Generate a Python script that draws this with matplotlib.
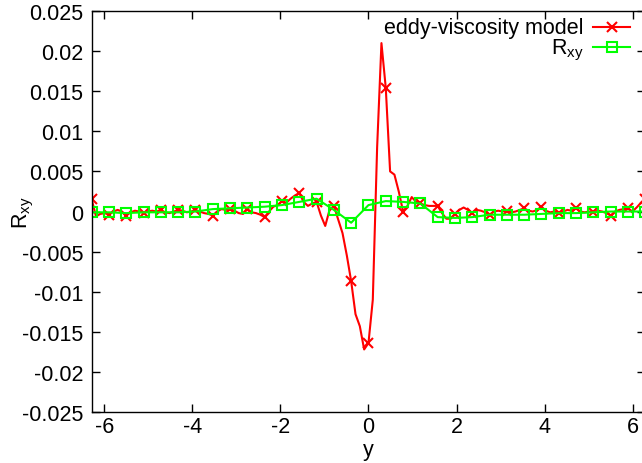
import numpy as np
import matplotlib
matplotlib.use('Agg')
import matplotlib.pyplot as plt
from matplotlib.lines import Line2D

plt.rcParams['font.family'] = ['Liberation Sans', 'DejaVu Sans']
plt.rcParams['mathtext.default'] = 'regular'
plt.rcParams['axes.unicode_minus'] = False

# eddy-viscosity model, sampled every pi/32 on [-2pi, 2pi] (values x 1e-4)
eddy_vals = [15, -6, -3, -2, -4, 0, 2, 0, -5,
             -1, 1, 0, -2, 0, 1, 0, 2,
             -1, -2, 0, 2, 1, -1, 0, 2,
             0, -2, -3, -5, 0, 3, 2, 3,
             1, -2, -3, 3, -1, -2, -4, -7,
             0, 6, 8, 13, 11, 16, 20, 23,
             12, 7, 10, 12, -5, -18, 2, 7,
             -10, -27, -55, -87, -128, -143, -172, -164,
             -110, 80, 210, 154, 50, 46, 25, 0,
             7, 18, 12, 10, 8, 7, 7, 7,
             -2, -9, -9, -3, 2, 5, 2, -2,
             2, 1, -1, -4, 0, 1, 0, 1,
             -1, 0, 2, 4, 1, 0, 2, 6,
             1, -1, 0, -2, 0, 2, 1, 4,
             0, -1, 0, -1, 1, 0, -2, -5,
             0, 2, 3, 4, 0, 5, 11, 16]

# R_xy, sampled every pi/8 on [-2pi, 2pi] (values x 1e-4)
rxy_vals = [-1, -1, -2, -1, -1, -1, 0, 3, 4, 5, 6, 8, 12, 16, 2, -14, 8,
            13, 12, 10, -7, -8, -7, -4, -4, -4, -3, -2, -2, -1, 0, 0, 0]

xticks = [-6, -4, -2, 0, 2, 4, 6]
yticks = [-0.025, -0.02, -0.015, -0.01, -0.005, 0, 0.005, 0.01, 0.015, 0.02, 0.025]
ytick_labels = ['-0.025', '-0.02', '-0.015', '-0.01', '-0.005', '0',
                '0.005', '0.01', '0.015', '0.02', '0.025']

eddy_y = np.array(eddy_vals) * 1e-4
eddy_x = np.linspace(-2 * np.pi, 2 * np.pi, len(eddy_y))
rxy_y = np.array(rxy_vals) * 1e-4
rxy_x = np.linspace(-2 * np.pi, 2 * np.pi, len(rxy_y))

fs = 15.5
fig = plt.figure(figsize=(6.42, 4.64), dpi=100)
ax = fig.add_axes([0.1428, 0.1099, 0.8623, 0.8642])

ax.plot(eddy_x, eddy_y, color='#ff0000', lw=1.5, marker='x', markevery=4,
        ms=7, mew=1.5)
ax.plot(rxy_x, rxy_y, color='#00ff00', lw=1.5, marker='s', ms=6.5,
        mfc='none', mew=1.5)

ax.set_xlim(-2 * np.pi, 2 * np.pi)
ax.set_ylim(-0.025, 0.025)
ax.set_xticks(xticks)
ax.set_yticks(yticks)
ax.set_yticklabels(ytick_labels)
ax.tick_params(direction='in', length=6, width=1, top=True, right=True,
               labelsize=fs)
ax.tick_params(axis='x', pad=3)
ax.tick_params(axis='y', pad=6)
for s in ax.spines.values():
    s.set_linewidth(1)

ax.set_xlabel('y', fontsize=fs, labelpad=1)
ax.set_ylabel('R$_{xy}$', fontsize=fs)
ax.yaxis.set_label_coords(-0.1, 0.5)

# key, gnuplot style (text right-aligned, sample on the right)
W, H = 642.0, 464.0
keys = [('eddy-viscosity model', '#ff0000', 'x', 34, 28),
        ('R$_{xy}$', '#00ff00', 's', 54, 48)]
for label, c, m, base, ly in keys:
    fig.text(584 / W, 1 - base / H, label, ha='right', va='baseline', fontsize=fs)
    fig.add_artist(Line2D([593 / W, 630 / W], [1 - ly / H, 1 - ly / H],
                          transform=fig.transFigure, color=c, lw=1.5))
    fig.add_artist(Line2D([611.5 / W], [1 - ly / H], transform=fig.transFigure,
                          color=c, marker=m, ms=7 if m == 'x' else 6.5,
                          mew=1.5, mfc='none', ls='none'))

fig.savefig('out.png', dpi=100)
